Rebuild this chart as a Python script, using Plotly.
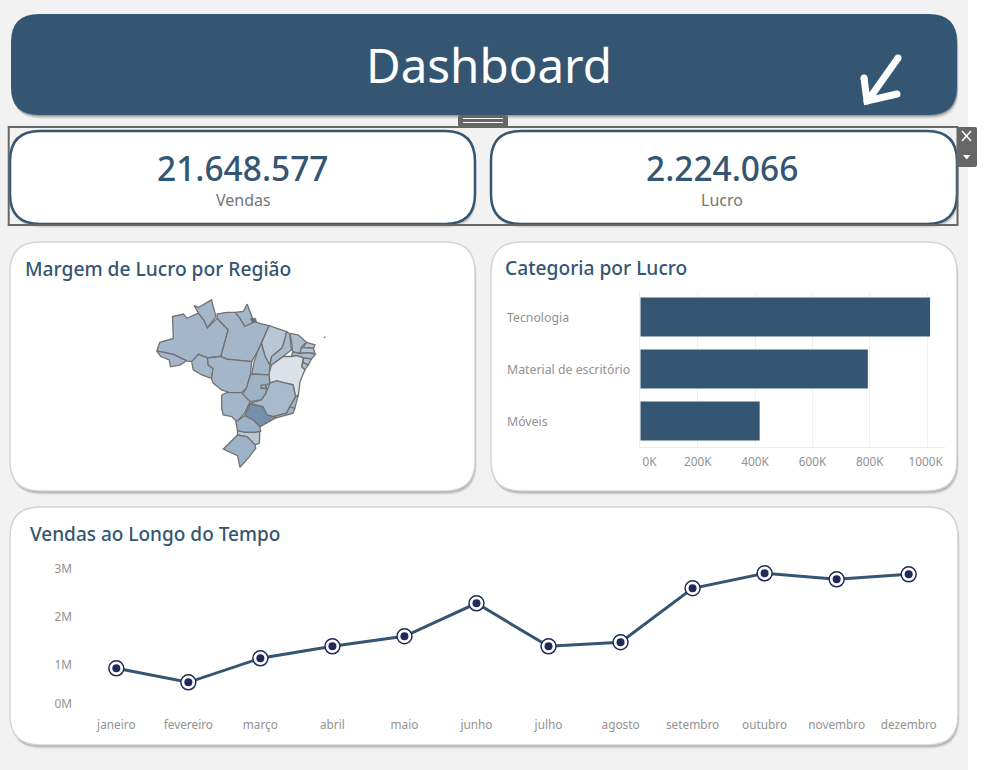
import plotly.graph_objects as go
from plotly.colors import sample_colorscale

W, H = 984, 770
FONT = "Noto Sans"
BLUE = "#345672"
NAVY = "#1f2a5a"
GRAY = "#929292"

# KPIs
vendas_total = "21.648.577"
lucro_total = "2.224.066"

# Profit by category (bars)
categorias = ["Tecnologia", "Material de escritório", "Móveis"]
lucro = [1010000, 793000, 416000]
lucro_ticks = [0, 200000, 400000, 600000, 800000, 1000000]
lucro_labels = ["\u00a0" * 6 + "0K", "200K", "400K", "600K", "800K", "1000K\u00a0"]

# Sales by month (line)
meses = ["janeiro", "fevereiro", "março", "abril", "maio", "junho", "julho",
         "agosto", "setembro", "outubro", "novembro", "dezembro"]
vendas = [925000, 633000, 1133000, 1383000, 1592000, 2279000, 1383000,
          1467000, 2592000, 2904000, 2779000, 2883000]
# the 0M label sits above its true place in the original, kept inside the pane
vendas_ticks = [190000, 1000000, 2000000, 3000000]
vendas_labels = ["0M", "1M", "2M", "3M"]

estados = ["AM", "AC", "RO", "RR", "AP", "PA", "MA", "PI", "CE", "RN", "PB", "PE", "AL", "SE",
           "BA", "TO", "MT", "GO", "DF", "MG", "ES", "RJ", "MS", "SP", "PR", "SC", "RS"]
margem = [0.11, 0.11, 0.11, 0.11, 0.11, 0.11, 0.07, 0.10, 0.09, 0.08, 0.08, 0.10, 0.08, 0.08,
          0.00, 0.11, 0.11, 0.12, 0.13, 0.10, 0.11, 0.12, 0.11, 0.20, 0.12, 0.07, 0.12]
estados_lon = [
    [-74.0, -73.2, -69.9, -70.1, -67.4, -66.6, -63.7, -62.4, -61.5, -59.1, -56.4, -58.2, -61.5, -63.7, -65.4, -66.6, -69.9, -74.0],
    [-74.0, -69.9, -66.6, -68.3, -70.6, -70.9, -73.0, -74.0],
    [-65.4, -63.7, -61.5, -61.3, -60.1, -60.5, -62.9, -65.0, -65.4],
    [-64.8, -63.7, -60.5, -60.0, -59.4, -61.5, -62.4, -63.7, -64.8],
    [-54.7, -52.7, -51.7, -50.4, -49.8, -52.3, -53.5, -54.7],
    [-59.1, -59.1, -56.8, -54.7, -53.5, -52.3, -49.8, -48.6, -46.3, -48.2, -49.0, -50.6, -56.8, -58.2, -56.4, -59.1],
    [-46.3, -44.5, -42.0, -42.7, -43.2, -45.7, -46.1, -47.3, -48.2, -46.3],
    [-42.0, -41.2, -40.8, -42.8, -45.7, -46.1, -45.7, -43.2, -42.7, -42.0],
    [-41.2, -39.1, -37.1, -38.3, -38.7, -40.5, -40.8, -41.2],
    [-37.1, -35.0, -35.4, -37.9, -37.1],
    [-38.3, -37.9, -35.4, -35.0, -36.7, -38.7, -38.3],
    [-40.5, -38.7, -36.7, -34.9, -35.9, -37.9, -39.5, -40.8, -40.5],
    [-37.9, -35.9, -36.7, -37.9, -37.9],
    [-37.9, -36.7, -37.5, -38.3, -37.9],
    [-45.7, -42.8, -40.8, -39.5, -37.9, -38.3, -37.5, -38.7, -39.1, -39.8, -40.4, -44.5, -46.1, -46.5, -45.7],
    [-49.0, -48.2, -47.3, -46.1, -46.3, -50.6, -50.0, -49.0],
    [-61.5, -58.2, -56.8, -50.6, -50.9, -51.9, -53.1, -56.0, -58.0, -60.1, -60.5, -60.1, -61.3, -61.5],
    [-50.6, -46.3, -46.1, -46.8, -47.1, -48.2, -51.0, -53.1, -51.9, -50.9, -50.6],
    [-48.3, -47.1, -47.1, -48.3, -48.3],
    [-48.2, -47.1, -46.1, -44.5, -40.4, -39.8, -41.2, -42.0, -45.3, -46.9, -47.8, -51.0, -48.2],
    [-39.8, -39.1, -40.0, -41.2, -41.2, -39.8],
    [-41.2, -40.0, -40.4, -44.5, -45.3, -42.0, -41.2],
    [-58.0, -56.8, -53.1, -51.0, -52.3, -54.3, -55.5, -57.6, -58.0, -58.0],
    [-51.0, -47.8, -46.9, -44.5, -48.6, -50.2, -52.3, -51.0],
    [-52.3, -50.2, -48.6, -48.4, -49.8, -52.3, -54.1, -54.5, -52.3],
    [-54.1, -52.3, -49.8, -48.6, -48.7, -49.8, -51.7, -54.1, -54.1],
    [-54.1, -51.7, -49.8, -49.6, -51.2, -53.5, -54.1, -57.6, -54.1],
]
estados_lat = [
    [-6.6, -4.6, -3.7, 1.4, 2.0, 1.0, 2.2, 0.6, -1.2, 1.0, -1.7, -7.9, -8.2, -7.4, -9.1, -8.9, -7.4, -6.6],
    [-6.6, -7.4, -8.9, -9.9, -10.3, -8.7, -7.9, -6.6],
    [-9.1, -7.4, -8.2, -9.9, -10.7, -13.0, -12.2, -11.0, -9.1],
    [4.0, 3.5, 5.3, 3.4, 1.4, -1.2, 0.6, 2.2, 4.0],
    [2.4, 2.6, 4.3, 1.0, 0.2, -0.9, 1.0, 2.4],
    [1.0, 2.0, 2.4, 2.4, 1.0, -0.9, 0.2, -0.2, -0.7, -4.8, -6.4, -9.1, -8.5, -7.9, -1.7, 1.0],
    [-0.7, -1.3, -2.1, -4.8, -6.0, -7.9, -9.9, -7.9, -4.8, -0.7],
    [-2.1, -2.7, -6.4, -7.9, -9.9, -9.9, -7.9, -6.0, -4.8, -2.1],
    [-2.5, -2.9, -4.6, -5.6, -7.2, -6.8, -4.4, -2.5],
    [-4.6, -5.2, -6.0, -5.8, -4.6],
    [-5.8, -5.8, -6.0, -7.2, -7.0, -7.2, -5.8],
    [-6.8, -7.2, -7.0, -7.4, -8.5, -8.2, -7.7, -7.9, -6.8],
    [-8.2, -8.5, -9.9, -9.3, -8.2],
    [-9.3, -9.9, -11.0, -10.3, -9.3],
    [-9.9, -7.9, -7.9, -7.7, -8.2, -10.3, -11.0, -13.8, -16.9, -17.3, -14.5, -13.6, -14.1, -12.2, -9.9],
    [-6.4, -4.8, -7.9, -9.9, -12.2, -12.0, -9.1, -6.4],
    [-8.2, -7.9, -8.5, -9.1, -12.2, -15.3, -16.3, -16.3, -15.7, -14.1, -13.0, -10.7, -9.9, -8.2],
    [-12.0, -12.2, -14.1, -14.5, -16.5, -18.0, -18.4, -16.9, -15.3, -12.2, -12.0],
    [-14.5, -14.5, -15.3, -15.3, -14.5],
    [-18.0, -16.5, -14.1, -13.6, -14.5, -17.3, -19.6, -21.1, -21.9, -21.5, -19.6, -18.8, -18.0],
    [-17.3, -16.9, -20.0, -20.1, -19.6, -17.3],
    [-19.6, -20.0, -21.1, -22.2, -21.9, -21.1, -19.6],
    [-16.9, -16.3, -16.3, -18.4, -21.1, -23.1, -21.9, -21.5, -20.0, -16.9],
    [-19.0, -19.6, -21.5, -22.1, -24.3, -22.7, -21.7, -19.0],
    [-21.7, -22.7, -24.3, -25.3, -25.6, -25.6, -25.2, -23.1, -21.7],
    [-25.2, -25.6, -25.6, -25.4, -28.1, -28.5, -26.6, -26.2, -25.2],
    [-26.2, -26.6, -28.5, -29.3, -31.3, -33.7, -31.0, -29.5, -26.2],
]
marajo_lon = [-50.9, -49.6, -49.4, -50.6, -50.9]
marajo_lat = [1.0, 1.0, 0.1, 0.1, 1.0]
ilha_lon = [-32.6]
ilha_lat = [-3.4]


def px(x):
    return x / W


def py(y):
    return 1 - y / H


def round_path(x0, y0, x1, y1, r):
    # rounded box as an svg path in paper units
    pts = [("M", x0 + r, y0), ("L", x1 - r, y0), ("Q", x1, y0, x1, y0 + r), ("L", x1, y1 - r),
           ("Q", x1, y1, x1 - r, y1), ("L", x0 + r, y1), ("Q", x0, y1, x0, y1 - r),
           ("L", x0, y0 + r), ("Q", x0, y0, x0 + r, y0)]
    out = ""
    for p in pts:
        out += p[0]
        vals = p[1:]
        out += " ".join(f"{px(vals[i]):.5f},{py(vals[i + 1]):.5f}" for i in range(0, len(vals), 2))
    return out + "Z"


def box(x0, y0, x1, y1, r, fill, line=None, lw=0):
    return dict(type="path", xref="paper", yref="paper", layer="below", path=round_path(x0, y0, x1, y1, r),
                fillcolor=fill, line=dict(color=line or "rgba(0,0,0,0)", width=lw))


def card(x0, y0, x1, y1, r, fill, line=None, lw=0):
    # soft shadow made of a few offset boxes
    out = []
    for off, alpha in [(4, 0.05), (3, 0.08), (2, 0.12), (1, 0.16)]:
        out.append(box(x0 + off * 0.4, y0 + off, x1 + off * 0.4, y1 + off, r, f"rgba(0,0,0,{alpha})"))
    out.append(box(x0, y0, x1, y1, r, fill, line, lw))
    return out


def stroke(points, color, width):
    path = "M" + "L".join(f"{px(a):.5f},{py(b):.5f}" for a, b in points)
    return dict(type="path", xref="paper", yref="paper", layer="above", path=path,
                line=dict(color=color, width=width))


def dot(x, y, r):
    return dict(type="circle", xref="paper", yref="paper", layer="above", x0=px(x - r), x1=px(x + r),
                y0=py(y + r), y1=py(y - r), fillcolor="white", line_width=0)


def label(x, y, text, size, color=GRAY, anchor="center", weight=None):
    font = dict(family=FONT, size=size, color=color)
    if weight:
        font["weight"] = weight
    return dict(xref="paper", yref="paper", x=px(x), y=py(y), text=text, showarrow=False,
                xanchor=anchor, yanchor="middle", font=font, borderpad=0)


fig = go.Figure()

# Map
escala = [[0, "#dce1e7"], [0.55, "#a3b6ca"], [1, "#7590ad"]]
for nome, m, lon, lat in zip(estados, margem, estados_lon, estados_lat):
    cor = sample_colorscale(escala, m / 0.20)[0]
    fig.add_trace(go.Scatter(x=lon, y=lat, mode="lines", fill="toself", fillcolor=cor,
                             line=dict(color="#727272", width=1.3), name=nome, text=f"{nome}: {m:.0%}",
                             hoverinfo="text", xaxis="x", yaxis="y"))
fig.add_trace(go.Scatter(x=marajo_lon, y=marajo_lat, mode="lines", fill="toself", fillcolor="#6e6e6e",
                         line=dict(color="#6e6e6e", width=0.5), hoverinfo="skip", xaxis="x", yaxis="y"))
fig.add_trace(go.Scatter(x=ilha_lon, y=ilha_lat, mode="markers", marker=dict(size=2, color="#8a8a8a"),
                         hoverinfo="skip", xaxis="x", yaxis="y"))

# Bars
fig.add_trace(go.Bar(x=lucro, y=categorias, orientation="h", width=0.75, marker_color=BLUE,
                     marker_line_width=0, xaxis="x2", yaxis="y2"))

# Line, with the ringed points drawn as two marker layers
fig.add_trace(go.Scatter(x=meses, y=vendas, mode="lines+markers", line=dict(color=BLUE, width=3),
                         marker=dict(size=15, color="white", line=dict(color=NAVY, width=1.5)),
                         xaxis="x3", yaxis="y3"))
fig.add_trace(go.Scatter(x=meses, y=vendas, mode="markers", marker=dict(size=8, color=NAVY),
                         hoverinfo="skip", xaxis="x3", yaxis="y3"))

shapes = [dict(type="rect", xref="paper", yref="paper", layer="below", x0=0, x1=px(968), y0=0, y1=1,
               fillcolor="#f2f2f2", line_width=0)]
shapes += card(11, 14, 957, 115, 28, BLUE)
shapes += card(10, 131, 475, 224, 30, "white", BLUE, 2.5)
shapes += card(491, 131, 957, 224, 30, "white", BLUE, 2.5)
shapes += card(10, 242, 475, 491, 30, "white", "#d4d4d4", 1.5)
shapes += card(491, 242, 957, 491, 30, "white", "#d4d4d4", 1.5)
shapes += card(10, 507, 958, 745, 30, "white", "#d4d4d4", 1.5)

# edit frame, handle and tab around the selected KPI row
shapes.append(dict(type="rect", xref="paper", yref="paper", layer="above", x0=px(8.7), x1=px(957.5),
                   y0=py(225), y1=py(127), line=dict(color="#666666", width=2)))
shapes.append(box(458, 115, 508, 127, 2, "#666666"))
shapes[-1]["layer"] = "above"
shapes.append(stroke([(463, 118.5), (503, 118.5)], "white", 1))
shapes.append(stroke([(463, 122.5), (503, 122.5)], "white", 1))
shapes.append(box(957, 127, 977, 167, 2, "#666666"))
shapes[-1]["layer"] = "above"
shapes.append(stroke([(962, 131), (971, 141)], "white", 1.5))
shapes.append(stroke([(971, 131), (962, 141)], "white", 1.5))
tri = dict(type="path", xref="paper", yref="paper", layer="above", fillcolor="white", line_width=0,
           path=f"M{px(963)},{py(155)}L{px(970.5)},{py(155)}L{px(966.7)},{py(159.5)}Z")
shapes.append(tri)

# hand-drawn arrow in the header, with rounded stroke ends
shapes.append(stroke([(898, 58), (869, 99)], "white", 7))
shapes.append(stroke([(864, 78), (867, 101), (897, 94)], "white", 7))
for a, b in [(898, 58), (864, 78), (867, 101), (897, 94)]:
    shapes.append(dot(a, b, 3.5))

annotations = [
    label(489, 64, "Dashboard", 47.5, "white"),
    label(243, 168, vendas_total, 33.5, BLUE, weight=500),
    label(243, 200, "Vendas", 16, "#757575"),
    label(722, 168, lucro_total, 33.5, BLUE, weight=500),
    label(722, 200, "Lucro", 16, "#757575"),
    label(23.5, 268, "Margem de Lucro por Região", 19.2, BLUE, "left", 500),
    label(504, 267, "Categoria por Lucro", 19.2, BLUE, "left", 500),
    label(29, 534, "Vendas ao Longo do Tempo", 19, BLUE, "left", 500),
]
for c in categorias:
    annotations.append(dict(xref="paper", yref="y2", x=px(504.5), y=c, text=c, showarrow=False, xanchor="left",
                            yanchor="middle", font=dict(family=FONT, size=12.3, color=GRAY)))

tick_font = dict(family=FONT, size=11.8, color=GRAY)
fig.update_layout(
    width=W, height=H, autosize=False, margin=dict(l=0, r=0, t=0, b=0, pad=0),
    paper_bgcolor="white", plot_bgcolor="rgba(0,0,0,0)", showlegend=False,
    shapes=shapes, annotations=annotations,
    xaxis=dict(domain=[px(140), px(330)], range=[-78.11, -31.31], visible=False, fixedrange=True,
               anchor="y", automargin=False),
    yaxis=dict(domain=[py(475), py(290)], range=[-35.52, 7.6], visible=False, fixedrange=True,
               anchor="x", automargin=False),
    xaxis2=dict(domain=[px(640.3), px(945)], range=[0, 1062000], tickvals=lucro_ticks, ticktext=lucro_labels,
                tickfont=tick_font, showgrid=True, gridcolor="#f0f0f0", zeroline=False, showline=True,
                linecolor="#ececec", ticks="outside", ticklen=4, tickcolor="rgba(0,0,0,0)", fixedrange=True,
                anchor="y2", automargin=False),
    yaxis2=dict(domain=[py(447), py(291)], range=[2.5, -0.5], showticklabels=False, showgrid=False,
                zeroline=False, showline=True, linecolor="#ececec", fixedrange=True,
                anchor="x2", automargin=False),
    xaxis3=dict(domain=[px(80.3), px(944.7)], range=[-0.5, 11.5], tickfont=tick_font, showgrid=False,
                zeroline=False, ticks="outside", ticklen=1, tickcolor="rgba(0,0,0,0)", fixedrange=True,
                anchor="y3", automargin=False),
    yaxis3=dict(domain=[py(712.7), py(563.9)], range=[0, 3100000], tickvals=vendas_ticks, ticktext=vendas_labels,
                tickfont=tick_font, showgrid=False, zeroline=False, ticks="outside", ticklen=5,
                tickcolor="rgba(0,0,0,0)", fixedrange=True, anchor="x3", automargin=False),
)

fig.write_html("out.html", config=dict(displayModeBar=False),
               post_script="document.body.style.margin='0';document.documentElement.style.overflow='hidden';")
